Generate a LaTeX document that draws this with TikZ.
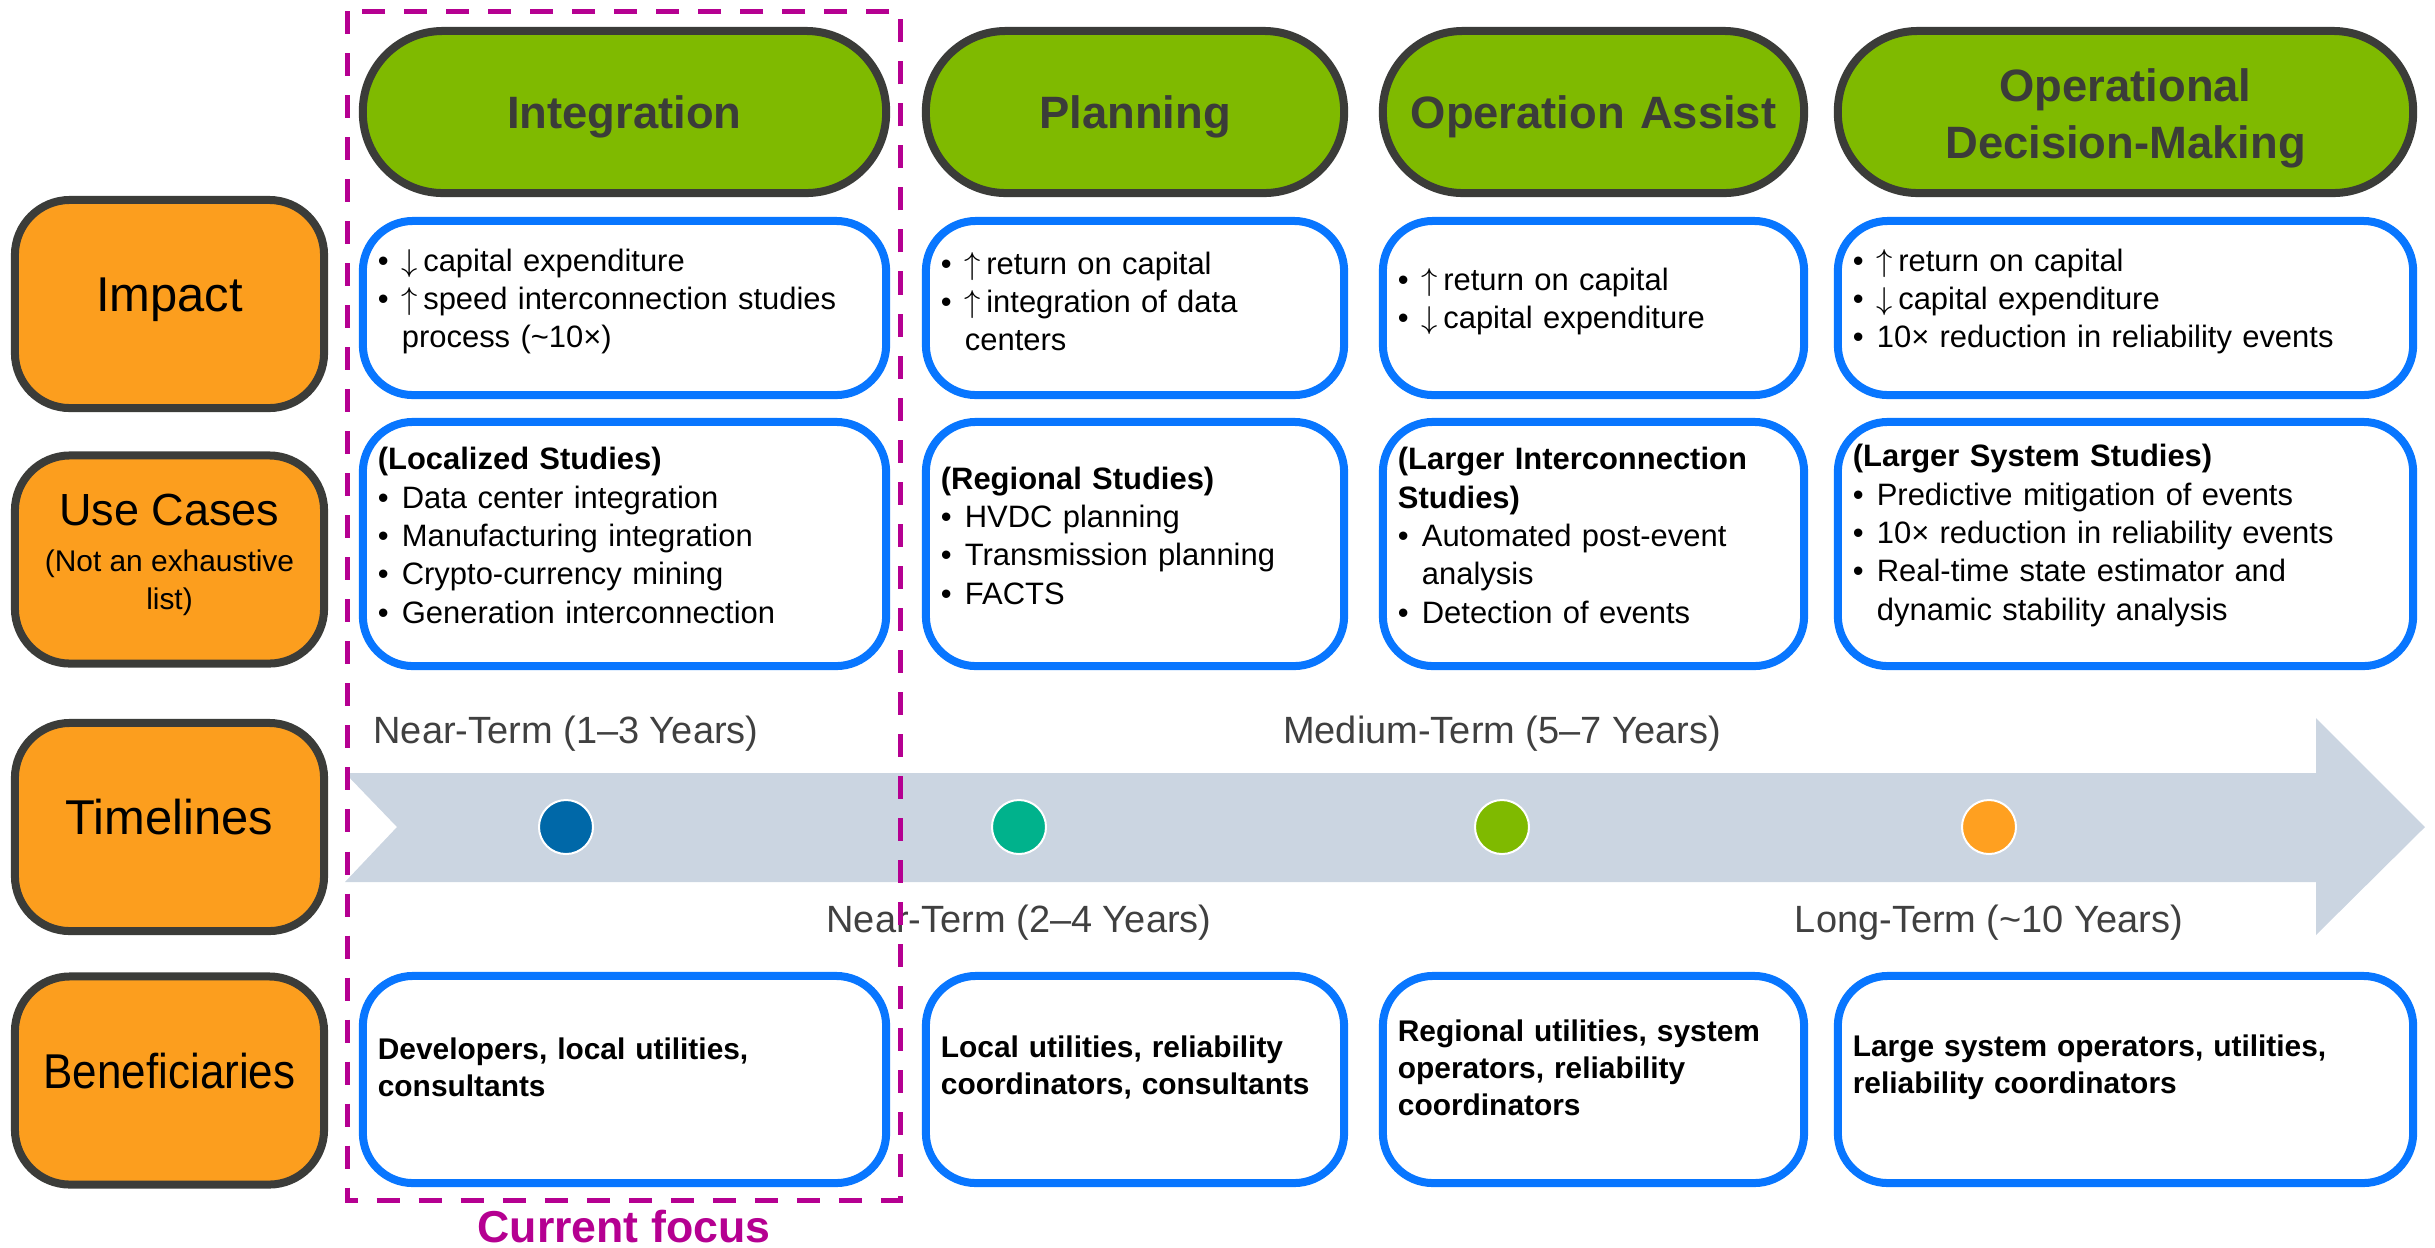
\documentclass[tikz,border=0pt]{standalone}
\usepackage{fontspec}
\setmainfont{Liberation Sans}

\definecolor{darkline}{RGB}{59,60,57}
\definecolor{phasegreen}{RGB}{127,186,0}
\definecolor{rowfill}{RGB}{252,158,30}
\definecolor{boxblue}{RGB}{8,118,255}
\definecolor{focusmag}{RGB}{181,0,145}
\definecolor{arrowgray}{RGB}{203,213,225}
\definecolor{termgray}{RGB}{64,64,64}
\definecolor{dotblue}{RGB}{0,104,168}
\definecolor{dotteal}{RGB}{0,178,140}
\definecolor{dotgreen}{RGB}{127,186,0}
\definecolor{dotorange}{RGB}{255,160,32}

% bullet line with hanging indent
\newcommand{\bitem}[1]{\par\noindent\hangindent=0.24cm\hangafter=1\makebox[0.24cm][l]{\textbullet}#1\par}
\newcommand{\up}{$\uparrow$\,}
\newcommand{\dn}{$\downarrow$\,}

\tikzset{
  rowbox/.style={draw=darkline, line width=0.08cm, fill=rowfill, rounded corners=0.55cm,
    minimum width=3.09cm, minimum height=2.08cm, align=center, font=\fontsize{13.9}{16}\selectfont},
  rowlabel/.style={rowbox, text height=0.36cm, text depth=0.21cm},
  phase/.style={draw=darkline, line width=0.08cm, fill=phasegreen, rounded corners=0.8cm,
    inner xsep=0pt, minimum height=1.62cm, align=center, text=darkline,
    font=\bfseries\fontsize{12.9}{16.2}\selectfont, execute at end node={\par\vspace*{-0.12cm}}},
  infobox/.style={draw=boxblue, fill=white, line width=0.08cm, rounded corners=0.5cm, align=left,
    inner xsep=0.15cm, font=\fontsize{8.8}{10.9}\selectfont, execute at end node={\par\vspace*{#1}}},
  infobox/.default=0.17cm,
  benefbox/.style={infobox=0.24cm, font=\bfseries\fontsize{8.5}{10.5}\selectfont},
  termlabel/.style={text=termgray, anchor=base, font=\fontsize{10.8}{13}\selectfont},
  stage/.style={circle, draw=white, line width=0.02cm, minimum size=0.54cm, inner sep=0pt},
  focusframe/.style={draw=focusmag, line width=0.05cm, dash pattern=on 0.23cm off 0.19cm},
}

\begin{document}
\begin{tikzpicture}[x=0.01cm, y=-0.01cm]
\useasboundingbox (0,0) rectangle (2435,1247);

% row labels
\node[rowlabel] (impact) at (169.5,304) {Impact};
\node[rowbox] (usecases) at (169.5,559.5) {};
\node[align=center, font=\fontsize{8.5}{10.8}\selectfont] (usecasestext) at ([yshift=0.05cm]usecases.center)
  {{\fontsize{12.8}{15}\selectfont Use Cases}\\[0.08cm](Not an exhaustive\\list)};
\node[rowlabel] (timelines) at (169.5,827) {Timelines};
\node[rowlabel] (beneficiaries) at (169.5,1080.5) {\scalebox{0.9}[1]{Beneficiaries}};

% phases
\node[phase, text width=5.23cm] (integ) at (624.5,112) {Integration};
\node[phase, text width=4.18cm] (plan) at (1135,112) {Planning};
\node[phase, text width=4.21cm] (opassist) at (1593.5,112) {Operation Assist};
\node[phase, text width=5.75cm] (opdecide) at (2125.5,112) {Operational\\Decision-Making};

% impact
\node[infobox=0.29cm, text width=4.93cm, minimum height=1.74cm] (impact1) at (624.5,308) {
  \bitem{\dn capital expenditure}
  \bitem{\up speed interconnection studies\newline process (\textasciitilde10×)}};
\node[infobox=0.29cm, text width=3.88cm, minimum height=1.74cm] (impact2) at (1135,308) {
  \bitem{\up return on capital}
  \bitem{\up integration of data\newline centers}};
\node[infobox=0.29cm, text width=3.91cm, minimum height=1.74cm] (impact3) at (1593.5,308) {
  \bitem{\up return on capital}
  \bitem{\dn capital expenditure}};
\node[infobox=0.29cm, text width=5.45cm, minimum height=1.74cm] (impact4) at (2125.5,308) {
  \bitem{\up return on capital}
  \bitem{\dn capital expenditure}
  \bitem{10× reduction in reliability events}};

% use cases
\node[infobox, text width=4.93cm, minimum height=2.44cm] (use1) at (624.5,544) {
  \textbf{(Localized Studies)}
  \bitem{Data center integration}
  \bitem{Manufacturing integration}
  \bitem{Crypto-currency mining}
  \bitem{Generation interconnection}};
\node[infobox, text width=3.88cm, minimum height=2.44cm] (use2) at (1135,544) {
  \textbf{(Regional Studies)}
  \bitem{HVDC planning}
  \bitem{Transmission planning}
  \bitem{FACTS}};
\node[infobox, text width=3.91cm, minimum height=2.44cm] (use3) at (1593.5,544) {
  \textbf{(Larger Interconnection\\Studies)}
  \bitem{Automated post-event\newline analysis}
  \bitem{Detection of events}};
\node[infobox, text width=5.45cm, minimum height=2.44cm] (use4) at (2125.5,544) {
  \textbf{(Larger System Studies)}
  \bitem{Predictive mitigation of events}
  \bitem{10× reduction in reliability events}
  \bitem{Real-time state estimator and\newline dynamic stability analysis}};

% timeline arrow
\fill[arrowgray] (345,773) -- (2316,773) -- (2316,718) -- (2425,827) -- (2316,935)
  -- (2316,882) -- (345,882) -- (397,827) -- cycle;
\foreach \px/\col [count=\i] in {566/dotblue, 1019/dotteal, 1502/dotgreen, 1989/dotorange}
  \node[stage, fill=\col] (dot\i) at (\px,827) {};
\node[termlabel] (near1) at (566,743) {Near-Term (1–3 Years)};
\node[termlabel] (medium) at (1502,743) {Medium-Term (5–7 Years)};
\node[termlabel] (near2) at (1019,932) {Near-Term (2–4 Years)};
\node[termlabel] (long) at (1989,932) {Long-Term (\textasciitilde10 Years)};

% beneficiaries
\node[benefbox, text width=4.93cm, minimum height=2.07cm] (benef1) at (624.5,1079.5) {
  Developers, local utilities,\\consultants};
\node[benefbox, text width=3.88cm, minimum height=2.07cm] (benef2) at (1135,1079.5) {
  Local utilities, reliability\\coordinators, consultants};
\node[benefbox, text width=3.91cm, minimum height=2.07cm] (benef3) at (1593.5,1079.5) {
  Regional utilities, system\\operators, reliability\\coordinators};
\node[benefbox, text width=5.45cm, minimum height=2.07cm] (benef4) at (2125.5,1079.5) {
  Large system operators, utilities,\\reliability coordinators};

% current focus
\draw[focusframe] (347,11) rectangle (900,1200);
\node[anchor=base, text=focusmag, font=\bfseries\fontsize{12.7}{15}\selectfont] (focus) at (624,1242) {Current focus};
\end{tikzpicture}
\end{document}
